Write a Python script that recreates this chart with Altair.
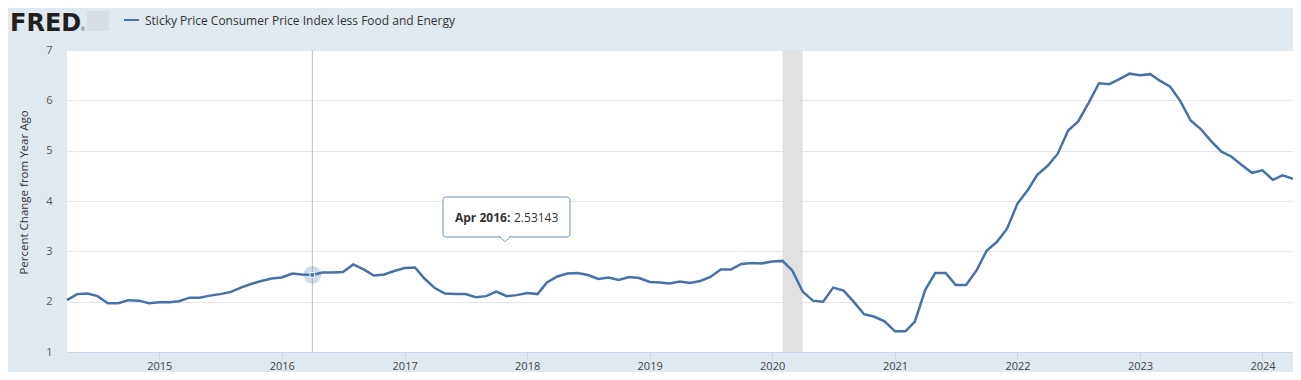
import altair as alt
import pandas as pd

SERIES_TITLE = "Sticky Price Consumer Price Index less Food and Energy"
Y_TITLE = "Percent Change from Year Ago"
LOGO = "FRED"
START = "2014-04-01"

v2014 = [2.03, 2.15, 2.16, 2.11, 1.97, 1.97, 2.03, 2.02, 1.97]
v2015 = [1.99, 1.99, 2.01, 2.08, 2.08, 2.12, 2.15, 2.19, 2.28, 2.35, 2.41, 2.46]
v2016 = [2.48, 2.56, 2.54, 2.53143, 2.58, 2.58, 2.59, 2.74, 2.64, 2.52, 2.54, 2.61]
v2017 = [2.67, 2.68, 2.46, 2.27, 2.16, 2.15, 2.15, 2.09, 2.11, 2.20, 2.11, 2.13]
v2018 = [2.17, 2.15, 2.38, 2.50, 2.56, 2.57, 2.53, 2.45, 2.48, 2.43, 2.49, 2.47]
v2019 = [2.39, 2.38, 2.36, 2.40, 2.37, 2.41, 2.49, 2.64, 2.64, 2.75, 2.77, 2.76]
v2020 = [2.80, 2.81, 2.62, 2.20, 2.02, 2.00, 2.28, 2.22, 1.99, 1.75, 1.70, 1.61]
v2021 = [1.41, 1.41, 1.60, 2.23, 2.57, 2.57, 2.33, 2.33, 2.62, 3.01, 3.19, 3.45]
v2022 = [3.95, 4.22, 4.52, 4.70, 4.94, 5.40, 5.58, 5.95, 6.34, 6.32, 6.42, 6.53]
v2023 = [6.50, 6.52, 6.39, 6.27, 5.99, 5.60, 5.43, 5.19, 4.98, 4.88, 4.71, 4.56]
v2024 = [4.61, 4.42, 4.51, 4.44]

values = v2014 + v2015 + v2016 + v2017 + v2018 + v2019 + v2020 + v2021 + v2022 + v2023 + v2024
dates = pd.date_range(START, periods=len(values), freq="MS")
df = pd.DataFrame({"date": dates, "value": values})

rec_start = ["2020-02-01"]
rec_end = ["2020-04-01"]
rec_df = pd.DataFrame({"start": pd.to_datetime(rec_start), "end": pd.to_datetime(rec_end)})

hover_date = ["2016-04-01"]
hover_value = [2.53143]
hover_label = ["Apr 2016:"]
hover_text = ["2.53143"]
hover_df = pd.DataFrame({"date": pd.to_datetime(hover_date), "value": hover_value,
                         "label": hover_label, "text": hover_text})
head_df = pd.DataFrame({"title": [SERIES_TITLE], "logo": [LOGO], "reg": ["®"]})

BLUE = "#4572a7"
FONT = "Open Sans"
DOMAIN = [alt.DateTime(year=2014, month=4, date=1), alt.DateTime(year=2024, month=4, date=1)]

x_enc = alt.X("date:T",
              scale=alt.Scale(domain=DOMAIN),
              axis=alt.Axis(values=[alt.DateTime(year=y, month=1, date=1) for y in range(2015, 2025)],
                            format="%Y", title=None, grid=False, domain=True,
                            domainColor="#ccd6eb", ticks=True, tickColor="#ccd6eb",
                            tickSize=8, labelPadding=6, labelBaseline="middle",
                            labelColor="#444", labelFontSize=11, labelFont=FONT))
y_enc = alt.Y("value:Q",
              scale=alt.Scale(domain=[1, 7], nice=False, zero=False),
              axis=alt.Axis(values=[1, 2, 3, 4, 5, 6, 7], title=Y_TITLE, grid=True,
                            gridColor="#e6e6e6", domain=False, ticks=False, tickSize=0,
                            labelPadding=15, labelColor="#555", labelFontSize=11,
                            labelFont=FONT, titleFont=FONT, titleFontSize=11.5,
                            titleFontWeight="normal", titleColor="#333",
                            titlePadding=16, titleY=142))

recession = alt.Chart(rec_df).mark_rect(color="#e1e1e1").encode(
    x=alt.X("start:T", scale=alt.Scale(domain=DOMAIN)),
    x2="end:T")

cross = alt.Chart(hover_df).mark_rule(color="#c0c0c0", strokeWidth=1).encode(x="date:T")

line = alt.Chart(df).mark_line(color=BLUE, strokeWidth=2.5).encode(x=x_enc, y=y_enc)

halo = alt.Chart(hover_df).mark_circle(color=BLUE, opacity=0.25, size=320).encode(
    x="date:T", y="value:Q")
dot = alt.Chart(hover_df).mark_point(shape="square", filled=True, color=BLUE, size=22,
                                     stroke="white", strokeWidth=1, opacity=1).encode(
    x="date:T", y="value:Q")

box = alt.Chart(hover_df).mark_rect(fill="white", stroke="#6f93c2", strokeWidth=1,
                                    cornerRadius=3).encode(
    x=alt.value(376), x2=alt.value(503), y=alt.value(147), y2=alt.value(187))
pointer = alt.Chart(hover_df).mark_point(shape="M-1,-0.2L0,0.8L1,-0.2", filled=True,
                                         fill="white", stroke="#6f93c2", strokeWidth=1,
                                         size=144, opacity=1).encode(
    x=alt.value(438), y=alt.value(187))
tip_label = alt.Chart(hover_df).mark_text(align="left", baseline="middle", font=FONT,
                                          fontSize=12, fontWeight="bold", color="#333").encode(
    x=alt.value(388), y=alt.value(168), text="label:N")
tip_value = alt.Chart(hover_df).mark_text(align="left", baseline="middle", font=FONT,
                                          fontSize=12, color="#333").encode(
    x=alt.value(447), y=alt.value(168), text="text:N")

leg_line = alt.Chart(head_df).mark_rule(color=BLUE, strokeWidth=2).encode(
    x=alt.value(57), x2=alt.value(72), y=alt.value(-30))
leg_text = alt.Chart(head_df).mark_text(align="left", baseline="middle", font=FONT,
                                        fontSize=12, color="#333").encode(
    x=alt.value(78), y=alt.value(-29), text="title:N")
logo = alt.Chart(head_df).mark_text(align="left", baseline="alphabetic",
                                    font="DejaVu Sans", fontSize=24, fontWeight="bold",
                                    color="#231f20").encode(
    x=alt.value(-57), y=alt.value(-19), text="logo:N")
reg = alt.Chart(head_df).mark_text(align="left", baseline="alphabetic",
                                   font="Liberation Sans", fontSize=5,
                                   color="#231f20").encode(
    x=alt.value(14), y=alt.value(-19), text="reg:N")
icon = alt.Chart(head_df).mark_rect(fill="#d7dde2", cornerRadius=1).encode(
    x=alt.value(20), x2=alt.value(42), y=alt.value(-39), y2=alt.value(-19))

chart = alt.layer(
    recession, cross, line, halo, dot, box, pointer, tip_label, tip_value,
    leg_line, leg_text, logo, reg, icon
).properties(
    width=1226, height=302,
    padding={"left": 59, "top": 42, "right": 0, "bottom": 20},
    autosize="none",
    background="#e1e9f0",
).configure_view(fill="white", stroke=None)

chart.save("out.html", embed_options={"renderer": "svg", "actions": False})
